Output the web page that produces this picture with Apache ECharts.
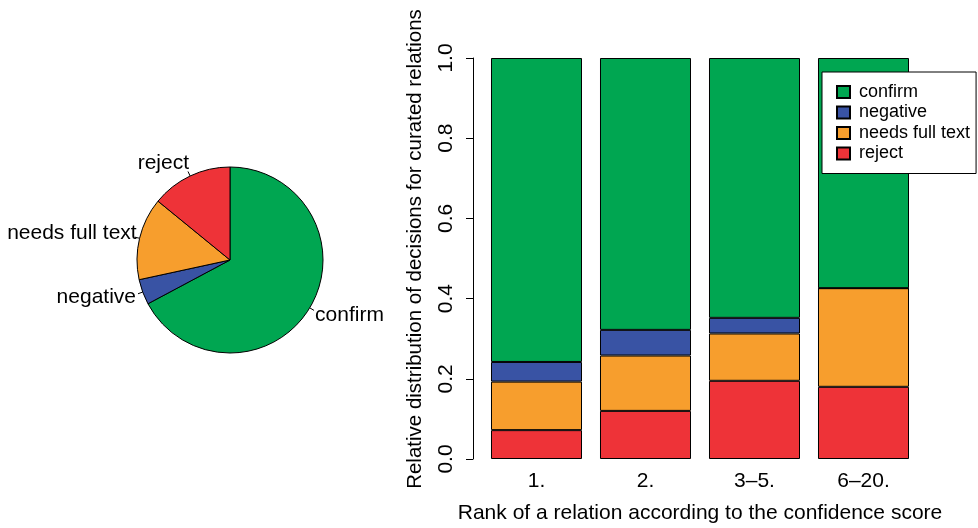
<!DOCTYPE html>
<html>
<head>
<meta charset="utf-8">
<script src="https://cdn.jsdelivr.net/npm/echarts@6/dist/echarts.min.js"></script>
<style>
html,body{margin:0;padding:0;background:#fff;}
#chart{width:978px;height:528px;}
</style>
</head>
<body>
<div id="chart"></div>
<script>
const seriesNames = ['confirm', 'negative', 'needs full text', 'reject'];
const pieValues = [0.672, 0.044, 0.143, 0.141];
const categories = ['1.', '2.', '3\u20135.', '6\u201320.'];
const rejectVals = [0.072, 0.120, 0.195, 0.180];
const fullTextVals = [0.121, 0.138, 0.118, 0.246];
const negativeVals = [0.049, 0.064, 0.039, 0.000];
const confirmVals = [0.758, 0.678, 0.648, 0.574];
const xTitle = 'Rank of a relation according to the confidence score';
const yTitle = 'Relative distribution of decisions for curated relations';

const colors = {
  'confirm': '#00A651',
  'negative': '#3953A4',
  'needs full text': '#F79E2D',
  'reject': '#EE3338'
};
// per-slice label fine tuning
const pieLabelDist = {'confirm': 1, 'negative': 2, 'needs full text': -2, 'reject': -1};
const pieLabelDy = [5, 3, -4, -8];
const FONT = '"Liberation Sans", Arial, Helvetica, sans-serif';

const chart = echarts.init(document.getElementById('chart'), null, {renderer: 'canvas'});

function barSeries(name, data) {
  return {
    name: name,
    type: 'bar',
    stack: 'total',
    data: data,
    barCategoryGap: '16.5%',
    itemStyle: {color: colors[name], borderColor: '#000', borderWidth: 1},
    emphasis: {disabled: true},
    animation: false
  };
}

const option = {
  animation: false,
  textStyle: {fontFamily: FONT},
  grid: {left: 482, right: 60, top: 58, bottom: 69, containLabel: false, outerBoundsMode: 'none'},
  legend: {
    data: seriesNames,
    orient: 'vertical',
    left: 822,
    top: 72,
    backgroundColor: '#fff',
    borderColor: '#000',
    borderWidth: 1,
    borderRadius: 0,
    padding: [11, 6, 11, 14],
    itemWidth: 13,
    itemHeight: 12,
    itemGap: 2.5,
    icon: 'rect',
    textStyle: {fontSize: 18, color: '#000', fontFamily: FONT, padding: [0, 0, 0, 4]},
    selectedMode: false
  },
  graphic: [{
    type: 'text',
    x: 415,
    y: 249,
    rotation: Math.PI / 2,
    silent: true,
    style: {
      text: yTitle, fontSize: 20.5, fontFamily: FONT, fill: '#000',
      align: 'center', verticalAlign: 'middle'
    }
  }],
  xAxis: {
    type: 'category',
    data: categories,
    axisLine: {show: false},
    axisTick: {show: false},
    axisLabel: {fontSize: 21, color: '#000', margin: 12, fontFamily: FONT},
    name: xTitle,
    nameLocation: 'middle',
    nameGap: 44,
    nameTextStyle: {fontSize: 21, color: '#000', fontFamily: FONT}
  },
  yAxis: {
    type: 'value',
    min: 0,
    max: 1,
    interval: 0.2,
    offset: 9,
    axisLine: {show: true, lineStyle: {color: '#000', width: 1}},
    axisTick: {show: true, length: 7, lineStyle: {color: '#000'}},
    splitLine: {show: false},
    axisLabel: {
      fontSize: 21, color: '#000', rotate: 90, margin: 16, fontFamily: FONT,
      formatter: function (v) { return v.toFixed(1); }
    }
  },
  series: [
    {
      name: 'pie',
      type: 'pie',
      center: [230, 260],
      radius: 93,
      startAngle: 90,
      clockwise: true,
      avoidLabelOverlap: false,
      animation: false,
      emphasis: {disabled: true},
      itemStyle: {borderColor: '#000', borderWidth: 1},
      label: {
        show: true, position: 'outside', fontSize: 21, color: '#000',
        fontFamily: FONT, distanceToLabelLine: 3, formatter: '{b}'
      },
      labelLine: {show: true, length: 5, length2: 0, lineStyle: {color: '#000', width: 1}},
      labelLayout: function (p) {
        return {dy: pieLabelDy[p.dataIndex]};
      },
      data: seriesNames.map((n, i) => ({
        name: n,
        value: pieValues[i],
        itemStyle: {color: colors[n]},
        label: {distanceToLabelLine: pieLabelDist[n]}
      }))
    },
    barSeries('reject', rejectVals),
    barSeries('needs full text', fullTextVals),
    barSeries('negative', negativeVals),
    barSeries('confirm', confirmVals)
  ]
};
chart.setOption(option);
</script>
</body>
</html>
